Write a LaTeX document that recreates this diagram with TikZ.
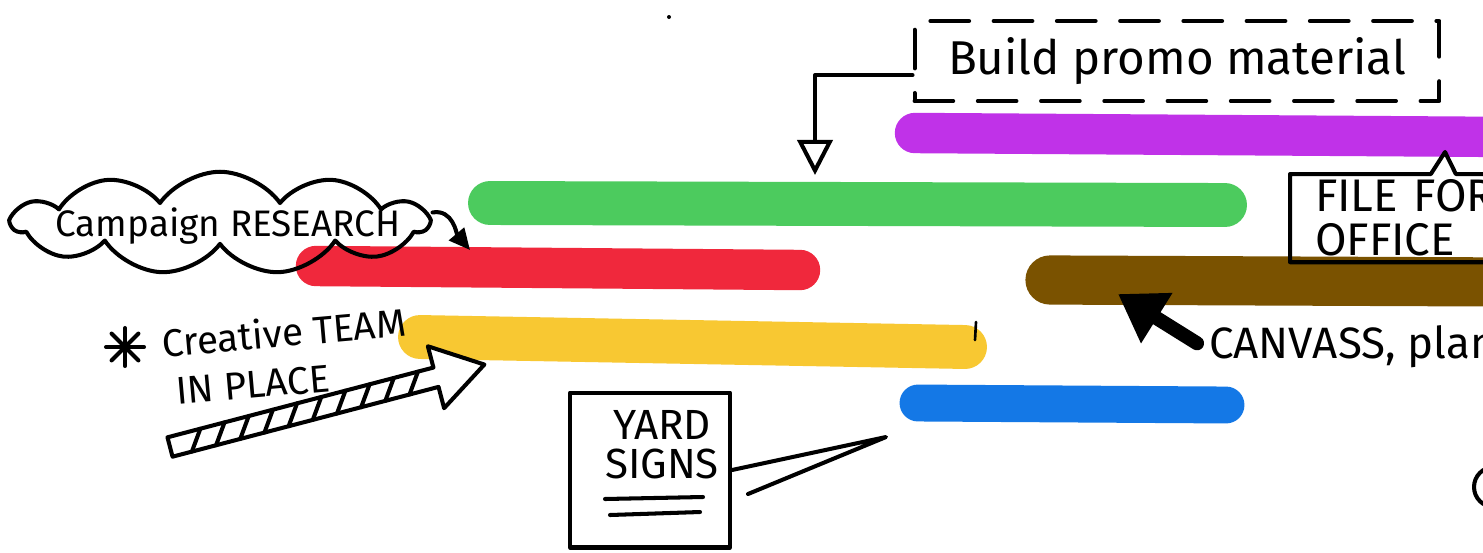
\documentclass[tikz,border=0pt]{standalone}
\usepackage{fontspec}
\setmainfont{Fira Sans}
\usetikzlibrary{shapes.symbols,shapes.callouts,arrows.meta}
\definecolor{crPurple}{RGB}{192,50,232}
\definecolor{crGreen}{RGB}{76,203,94}
\definecolor{crRed}{RGB}{240,40,60}
\definecolor{crYellow}{RGB}{248,200,50}
\definecolor{crBrown}{RGB}{122,82,0}
\definecolor{crBlue}{RGB}{20,120,230}
\begin{document}
\begin{tikzpicture}[x=0.02cm,y=-0.02cm,line cap=round,line join=round,
  ink/.style={line width=2.3pt},
  bar/.style={line width=#1},
  every node/.style={font=\fontsize{22}{26}\selectfont}]
  \useasboundingbox[fill=white] (0,0) rectangle (1483,552);
  \clip (0,0) rectangle (1483,552);
  \fill (669,17) circle (2);
  % bars
  \draw[bar=23pt,crPurple] (915,133) -- (1510,137);
  \draw[bar=25pt,crGreen] (490,203) -- (1225,205);
  \draw[bar=23pt,crRed] (316,266) -- (800,270);
  \draw[bar=25pt,crYellow] (420,337) -- (965,347);
  \draw[bar=28pt,crBrown] (1050,280) -- (1510,282);
  \draw[bar=21pt,crBlue] (918,403) -- (1226,405);
  \draw[line width=1.5pt] (976,322) -- (975,340);
  \coordinate (r) at (470,250); \coordinate (g) at (815,175);
  \coordinate (b) at (886,437);
  \coordinate (br) at (1118,294); \coordinate (p) at (1445,152);
  % notes
  \node[cloud,draw,ink,cloud puffs=11,cloud puff arc=110,cloud ignores aspect,
    minimum width=8.3cm,minimum height=2.05cm,inner sep=0pt] (research) at (220,223) {};
  \node[font=\fontsize{21}{24}\selectfont] (rtext) at (228,226) {Campaign RESEARCH};
  \draw[ink,-{Triangle[length=12pt,width=11pt]}] ([yshift=6pt]research.east) to[out=10,in=130] (r);
  \node[draw,ink,dash pattern=on 22pt off 14pt,minimum width=10.5cm,minimum height=1.6cm,
    font=\fontsize{27}{30}\selectfont] (promo) at (1177,61) {Build promo material};
  \draw[ink,-{Triangle[open,length=20pt,width=20pt]}] ([yshift=-8pt]promo.west) -| (g);
  \coordinate (ast) at (125,347);
  \foreach \a in {0,45,...,135} \draw[ink] (ast) ++(\a:19) -- ++(\a+180:38);
  \node[rotate=5,anchor=west] (team) at (156,343) {Creative TEAM};
  \node[rotate=5,anchor=west] (place) at (170,392) {IN PLACE};
  \begin{scope}[shift={(170,447)},rotate=14.7]
    \draw[ink,fill=white] (0,-10) -- (275,-10) -- (275,-32) -- (325,0) -- (275,32)
      -- (275,10) -- (0,10) -- cycle;
    \foreach \h in {20,45,...,245} \draw[ink] (\h,10) -- (\h+14,-10);
  \end{scope}
  \node[draw,ink,minimum width=3.2cm,minimum height=3.1cm] (yard) at (650,470) {};
  \node[align=center,font=\fontsize{24}{22}\selectfont] (signs) at (662,445) {YARD\\SIGNS};
  \draw[ink] (605,499) -- (703,497);
  \draw[ink] (610,515) -- (700,512);
  \coordinate (yb) at (748,494);
  \draw[ink] (yard.east) -- (b) -- (yb);
  \node[rectangle callout,draw,ink,anchor=north west,minimum width=6cm,minimum height=1.75cm,
    callout absolute pointer={(p)},callout pointer width=0.5cm,align=left,text width=5cm,
    inner xsep=0.5cm,font=\fontsize{26}{25}\selectfont] (office) at (1288,172) {FILE FOR\\OFFICE};
  \node[anchor=west,font=\fontsize{25}{28}\selectfont] (canvass) at (1203,347) {CANVASS, plan};
  \draw[line width=8pt,shorten <=4pt,-{Triangle[length=26pt,width=32pt]}] (canvass.west) -- (br);
  \draw[ink] (1494,487) circle (20);
\end{tikzpicture}
\end{document}
